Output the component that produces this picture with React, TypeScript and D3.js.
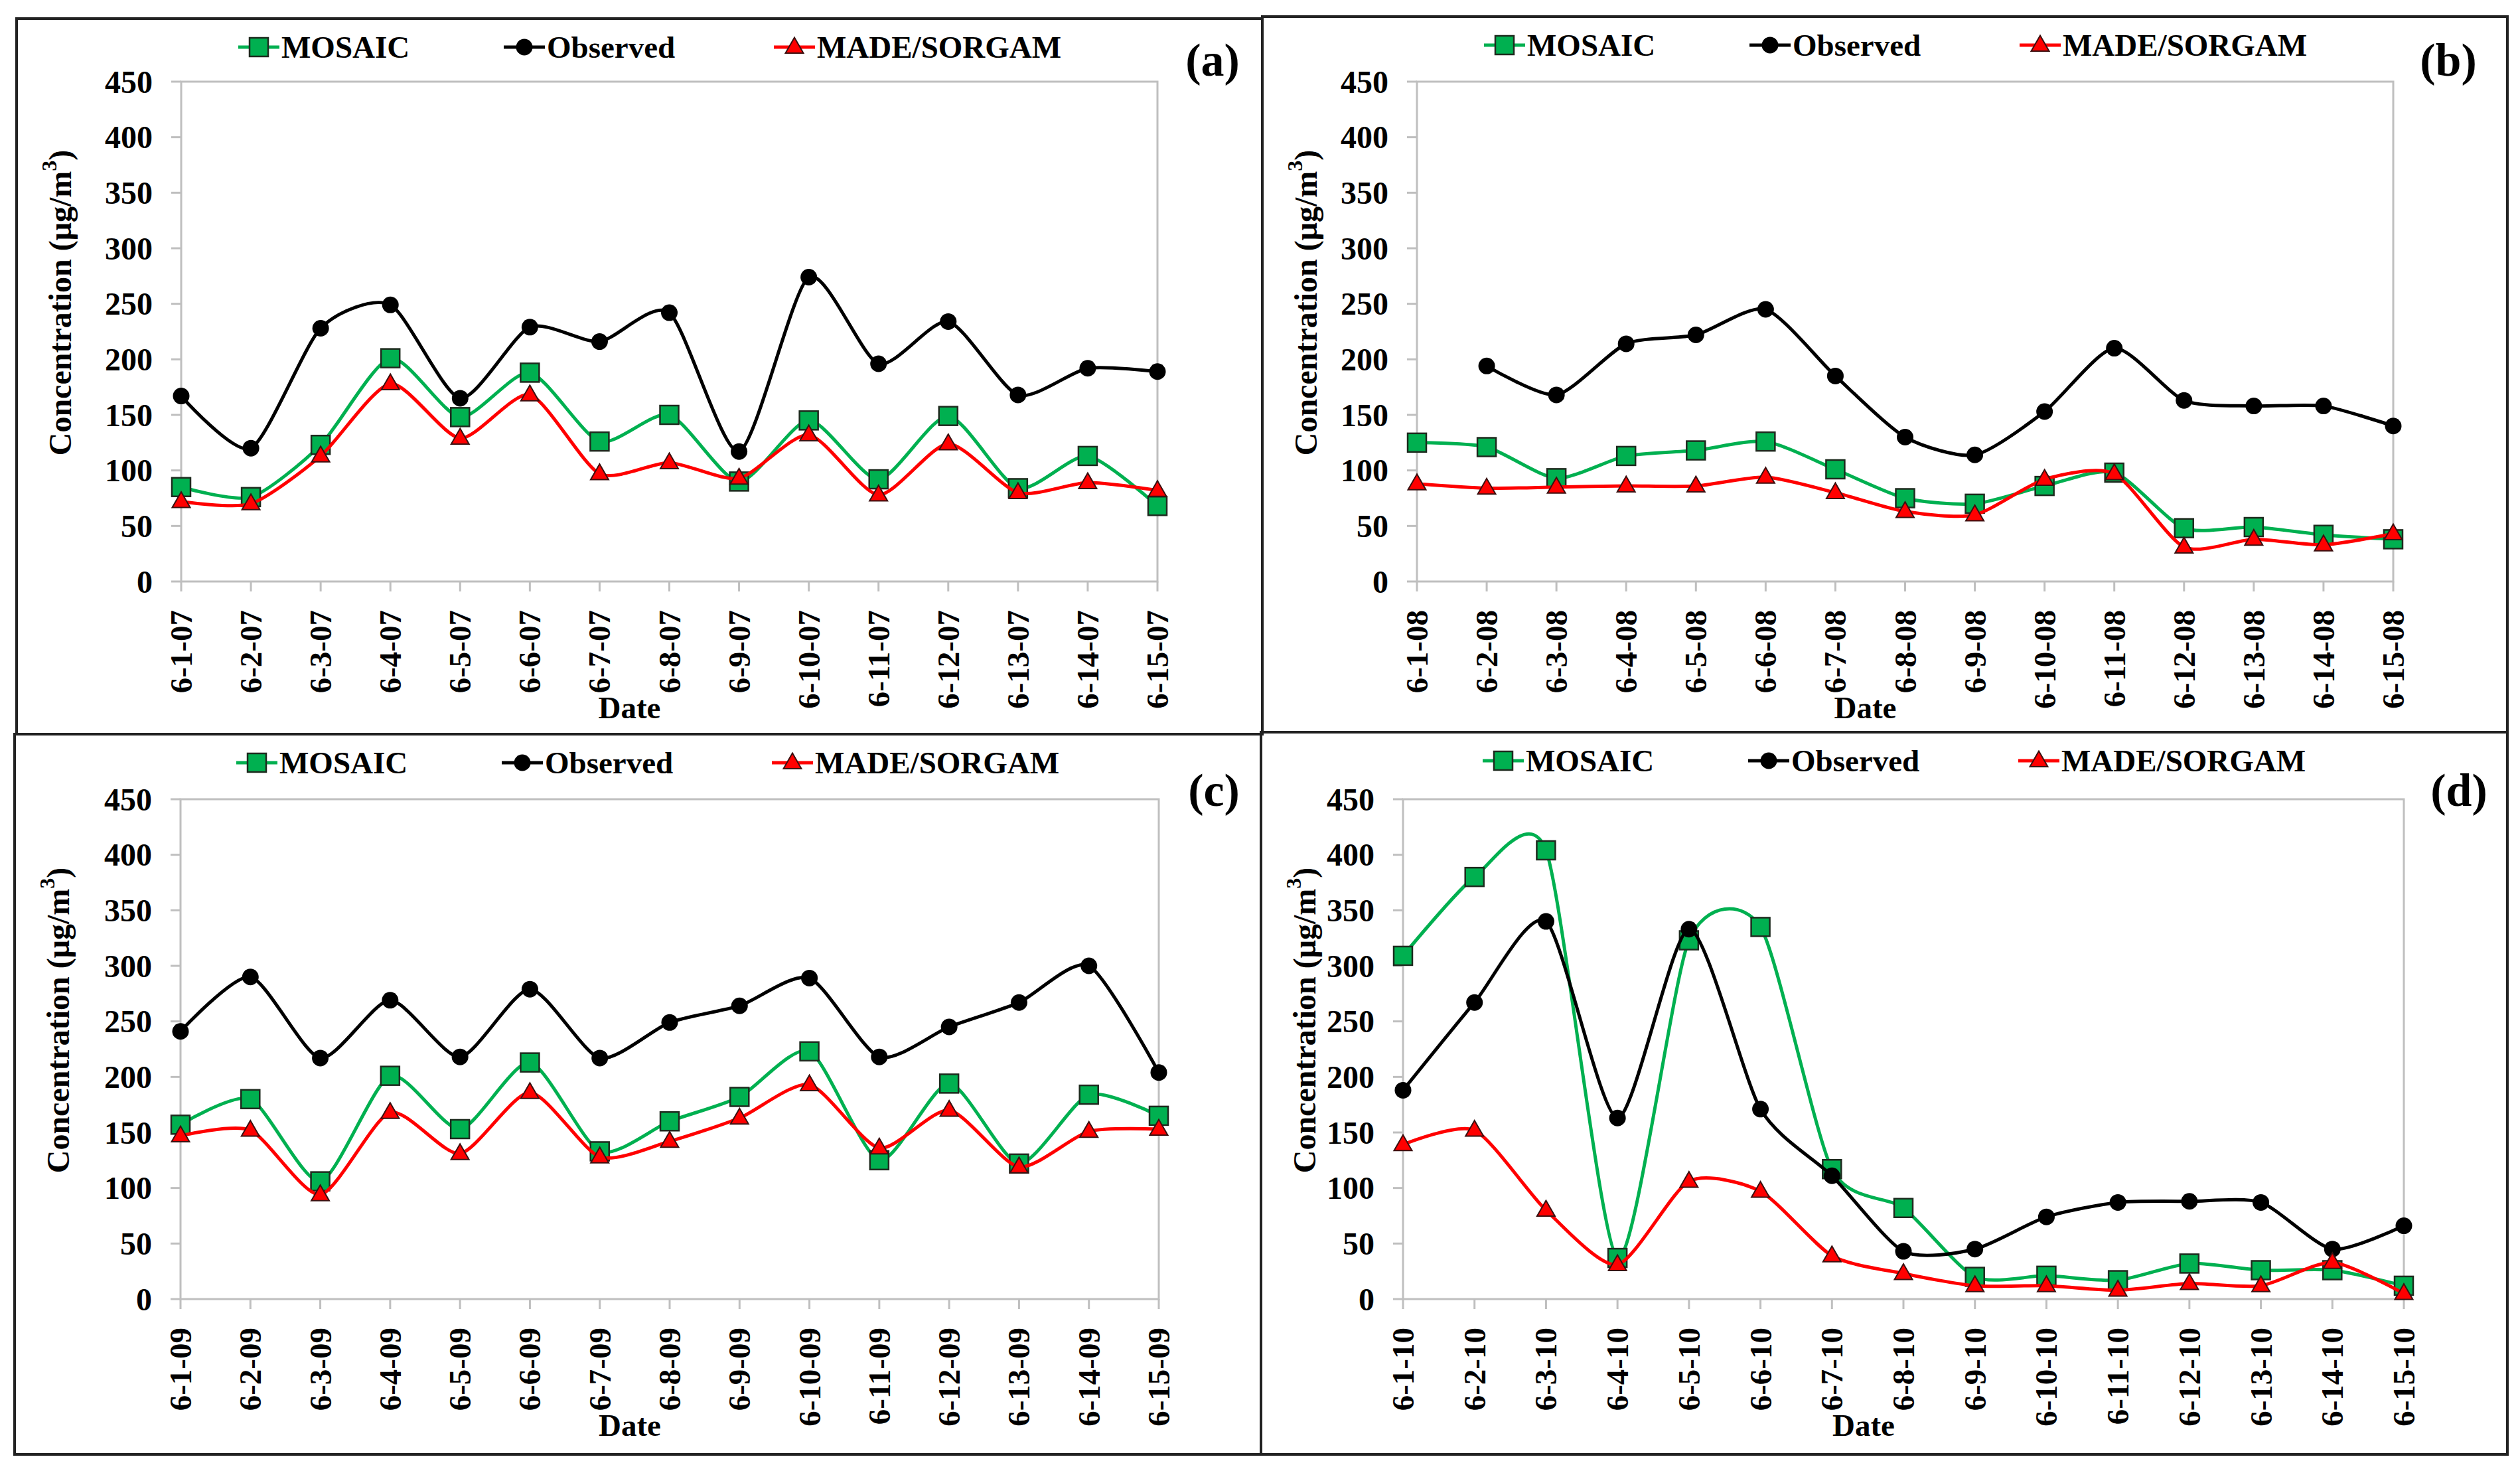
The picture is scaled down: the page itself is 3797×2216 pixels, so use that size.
import React from "react";
import * as d3 from "d3";

// x categories (day of June); year suffix is added per panel
const days = ["6-1", "6-2", "6-3", "6-4", "6-5", "6-6", "6-7", "6-8", "6-9", "6-10", "6-11", "6-12", "6-13", "6-14", "6-15"];
const yTicks = [0, 50, 100, 150, 200, 250, 300, 350, 400, 450];
const seriesNames = ["MOSAIC", "Observed", "MADE/SORGAM"];

// (a) 2007
const mosaic07 = [85, 76, 123, 201, 148, 188, 126, 150, 90, 145, 92, 149, 84, 113, 68];
const observed07 = [167, 120, 228, 249, 165, 229, 216, 242, 117, 274, 196, 234, 168, 192, 189];
const made07 = [72, 70, 113, 178, 129, 168, 97, 107, 93, 132, 78, 124, 80, 89, 82];

// (b) 2008 (no observation on 6-1)
const mosaic08 = [125, 121, 93, 113, 118, 126, 101, 75, 70, 86, 98, 48, 49, 42, 38];
const observed08 = [null, 194, 168, 214, 222, 245, 185, 130, 114, 153, 210, 163, 158, 158, 140];
const made08 = [88, 84, 85, 86, 86, 94, 80, 63, 60, 92, 97, 31, 38, 33, 43];

// (c) 2009
const mosaic09 = [157, 180, 106, 201, 153, 213, 133, 160, 182, 223, 125, 194, 122, 184, 165];
const observed09 = [241, 290, 217, 269, 218, 279, 217, 249, 264, 289, 218, 245, 267, 300, 204];
const made09 = [147, 152, 94, 168, 131, 186, 128, 142, 163, 193, 136, 170, 119, 151, 153];

// (d) 2010
const mosaic10 = [309, 380, 404, 37, 323, 335, 117, 82, 20, 21, 17, 32, 26, 26, 12];
const observed10 = [188, 267, 340, 163, 333, 171, 111, 43, 45, 74, 87, 88, 87, 45, 66];
const made10 = [139, 152, 80, 31, 106, 97, 39, 23, 12, 12, 8, 14, 12, 33, 5];

const FONT = "'Liberation Serif', 'Times New Roman', serif";
const GREEN = "#00b050";
const RED = "#ff0000";
const AXIS = "#bfbfbf";

type Box = { x: number; y: number; w: number; h: number };
type PanelProps = {
  letter: string;
  year: string;
  box: Box;
  plot: Box;
  labelY: number;
  series: (number | null)[][];
};

function Marker({ kind, x, y }: { kind: number; x: number; y: number }) {
  if (kind === 0)
    return <rect x={x - 14} y={y - 14} width={28} height={28} fill={GREEN} stroke="#1e2a1e" strokeWidth={2.5} />;
  if (kind === 1) return <circle cx={x} cy={y} r={12.5} fill="#000" />;
  const s = 27;
  const h = s * 0.87;
  return (
    <path
      d={`M${x},${y - h * 0.62}L${x + s / 2},${y + h * 0.38}L${x - s / 2},${y + h * 0.38}Z`}
      fill={RED}
      stroke="#3a1010"
      strokeWidth={2}
    />
  );
}

function Panel({ letter, year, box, plot, labelY, series }: PanelProps) {
  const labels = days.map((d) => `${d}-${year}`);
  const x = d3.scalePoint<string>().domain(labels).range([plot.x, plot.x + plot.w]);
  const y = d3.scaleLinear().domain([0, 450]).range([plot.y + plot.h, plot.y]);
  const colors = [GREEN, "#000", RED];

  // Excel-style smoothed line
  const line = d3
    .line<number | null>()
    .defined((v) => v != null)
    .x((_, i) => x(labels[i])!)
    .y((v) => y(v as number))
    .curve(d3.curveCardinal.tension(0.3));

  const legendX = [365, 765, 1172];
  const legendY = box.y + 43;
  const bottom = plot.y + plot.h;

  return (
    <g fontFamily={FONT} fontWeight="bold" fill="#000">
      <rect x={box.x} y={box.y} width={box.w} height={box.h} fill="none" stroke="#222" strokeWidth={4} />

      {/* legend */}
      {seriesNames.map((name, i) => {
        const mx = box.x + legendX[i];
        return (
          <g key={name}>
            <line x1={mx - 31} x2={mx + 31} y1={legendY} y2={legendY} stroke={colors[i]} strokeWidth={5} />
            <Marker kind={i} x={mx} y={legendY} />
            <text x={mx + 34} y={legendY} dominantBaseline="central" fontSize={47}>
              {name}
            </text>
          </g>
        );
      })}

      <text x={plot.x + plot.w + 83} y={labelY} textAnchor="middle" dominantBaseline="central" fontSize={70}>
        ({letter})
      </text>

      {/* plot frame */}
      <rect x={plot.x} y={plot.y} width={plot.w} height={plot.h} fill="none" stroke={AXIS} strokeWidth={3} />

      {/* y axis */}
      {yTicks.map((t) => (
        <g key={t}>
          <line x1={plot.x - 15} x2={plot.x} y1={y(t)} y2={y(t)} stroke={AXIS} strokeWidth={3} />
          <text x={plot.x - 43} y={y(t)} textAnchor="end" dominantBaseline="central" fontSize={48}>
            {t}
          </text>
        </g>
      ))}
      <text
        transform={`translate(${box.x + 65},${plot.y + 333}) rotate(-90)`}
        textAnchor="middle"
        dominantBaseline="central"
        fontSize={48}
      >
        Concentration (μg/m<tspan dy={-16} fontSize={32}>3</tspan>
        <tspan dy={16}>)</tspan>
      </text>

      {/* x axis */}
      {labels.map((l) => (
        <g key={l}>
          <line x1={x(l)} x2={x(l)} y1={bottom} y2={bottom + 15} stroke={AXIS} strokeWidth={3} />
          <text
            transform={`translate(${x(l)},${bottom + 43}) rotate(-90)`}
            textAnchor="end"
            dominantBaseline="central"
            fontSize={47}
          >
            {l}
          </text>
        </g>
      ))}
      <text x={plot.x + plot.w / 2 - 60} y={bottom + 206} textAnchor="middle" fontSize={47}>
        Date
      </text>

      {/* series */}
      {series.map((vals, si) => (
        <g key={si}>
          <path d={line(vals) ?? ""} fill="none" stroke={colors[si]} strokeWidth={5} />
          {vals.map((v, i) =>
            v == null ? null : <Marker key={i} kind={si} x={x(labels[i])!} y={y(v)} />
          )}
        </g>
      ))}
    </g>
  );
}

export default function App() {
  return (
    <svg
      width={3797}
      height={2216}
      style={{ position: "absolute", left: 0, top: 0, background: "#fff" }}
    >
      <rect width={3797} height={2216} fill="#fff" />
      <Panel
        letter="a"
        year="07"
        box={{ x: 25, y: 28, w: 1877, h: 1078 }}
        plot={{ x: 273, y: 123, w: 1471, h: 753 }}
        labelY={90}
        series={[mosaic07, observed07, made07]}
      />
      <Panel
        letter="b"
        year="08"
        box={{ x: 1902, y: 25, w: 1876, h: 1078 }}
        plot={{ x: 2135, y: 123, w: 1471, h: 753 }}
        labelY={90}
        series={[mosaic08, observed08, made08]}
      />
      <Panel
        letter="c"
        year="09"
        box={{ x: 22, y: 1106, w: 1878, h: 1085 }}
        plot={{ x: 272, y: 1204, w: 1474, h: 753 }}
        labelY={1190}
        series={[mosaic09, observed09, made09]}
      />
      <Panel
        letter="d"
        year="10"
        box={{ x: 1900, y: 1103, w: 1878, h: 1088 }}
        plot={{ x: 2114, y: 1204, w: 1508, h: 753 }}
        labelY={1190}
        series={[mosaic10, observed10, made10]}
      />
    </svg>
  );
}
